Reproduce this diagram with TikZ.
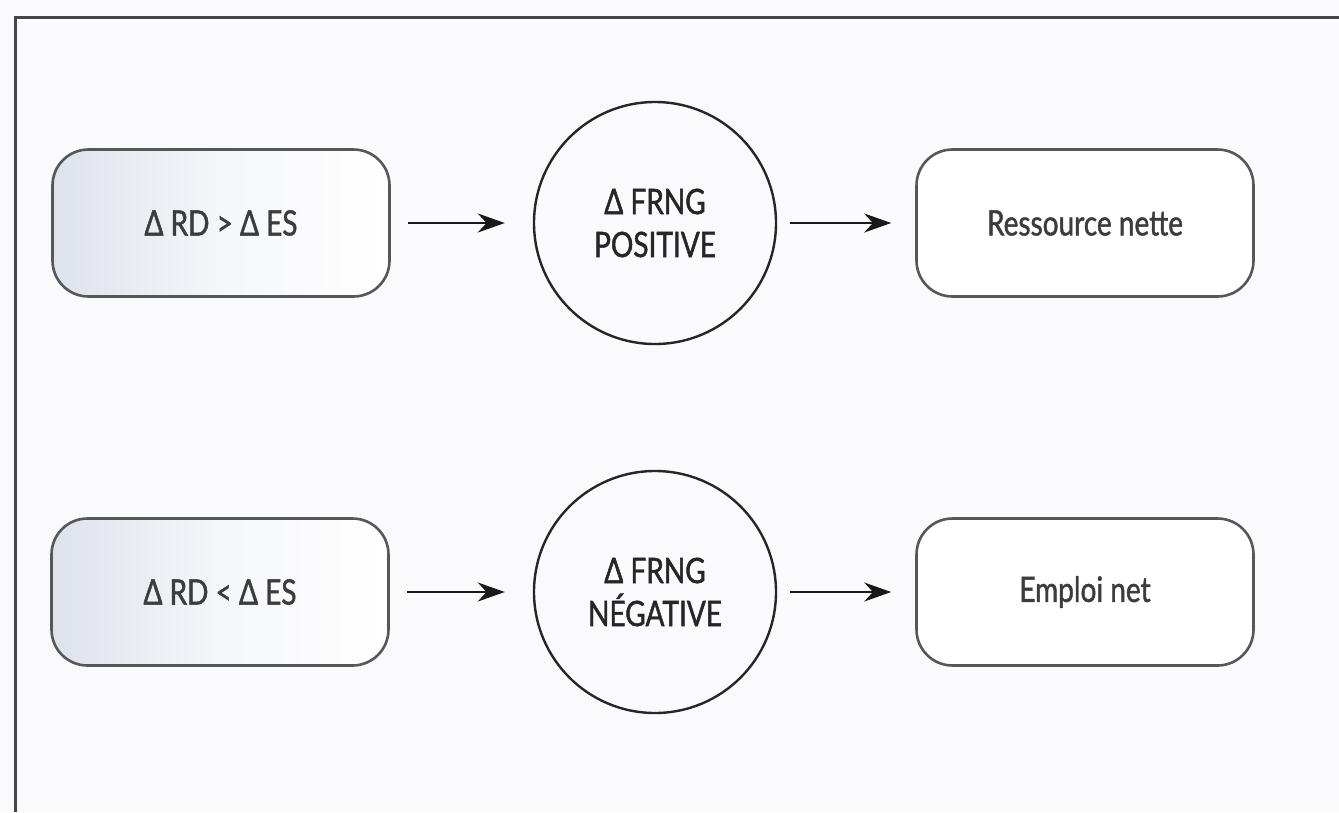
\documentclass[tikz,border=0pt]{standalone}
\usepackage{fontspec}
\setmainfont{Lato}[FakeStretch=0.8,FakeBold=1.3]
\usetikzlibrary{arrows.meta}
\definecolor{bg}{RGB}{250,250,252}
\definecolor{frame}{RGB}{70,70,70}
\definecolor{boxline}{RGB}{85,88,88}
\definecolor{txt}{RGB}{60,60,60}
\definecolor{speck}{RGB}{222,226,236}
\tikzset{
  rbox/.style={draw=boxline, line width=2.6pt, rounded corners=36pt, minimum width=337pt, minimum height=147pt, font=\fontsize{35}{42}\selectfont, text=txt, fill=white},
  rboxshade/.style={rbox, left color=speck, right color=white, middle color=white!70!speck},
  circ/.style={draw=black!85, line width=2.4pt, circle, minimum size=242pt, align=center, font=\fontsize{35}{43}\selectfont, text=black!85, fill=bg},
  arr/.style={line width=2.2pt, black!90, -{Stealth[length=27pt,width=19pt]}}
}
\begin{document}
\begin{tikzpicture}[x=1pt,y=-1pt]
\fill[bg] (0,0) rectangle (1339,812);
\useasboundingbox (0,0) rectangle (1339,812);
\coordinate (fo) at (15,17);
\coordinate (fr) at (1339,17);
\coordinate (fb) at (15,812);
\draw[frame, line width=3pt] (fr) -- (fo) -- (fb);

\node[rboxshade] (b1) at (221,223) {Δ RD > Δ ES};
\node[circ] (c1) at (655,223) {Δ FRNG\\POSITIVE};
\node[rbox] (b3) at (1085,223) {Ressource nette};

\node[rboxshade] (b2) at (220,592) {Δ RD < Δ ES};
\node[circ] (c2) at (655,592) {Δ FRNG\\NÉGATIVE};
\node[rbox] (b4) at (1085,592) {Emploi net};

\draw[arr, shorten <=17pt, shorten >=28pt] (b1) -- (c1);
\draw[arr, shorten <=13pt, shorten >=24pt] (c1) -- (b3);
\draw[arr, shorten <=17pt, shorten >=28pt] (b2) -- (c2);
\draw[arr, shorten <=13pt, shorten >=24pt] (c2) -- (b4);
\end{tikzpicture}
\end{document}
